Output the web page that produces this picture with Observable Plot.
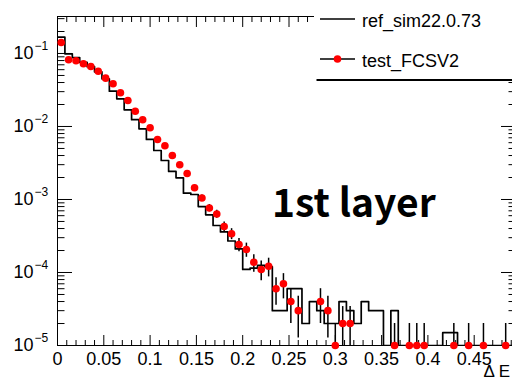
<!DOCTYPE html>
<html><head><meta charset="utf-8">
<script src="https://cdn.jsdelivr.net/npm/d3@7"></script>
<script src="https://cdn.jsdelivr.net/npm/@observablehq/plot@0.6"></script>
<style>
html,body{margin:0;padding:0;overflow:hidden;background:#fff;width:512px;height:382px}
#chart{position:relative;width:512px;height:382px;overflow:hidden}
#chart svg{max-width:none !important;width:530px;height:382px}
</style>
</head><body><div id="chart"></div>
<script>
// ---- data ----
const binWidth = 0.008;
// reference histogram (black steps), one value per bin starting at 0
const refValues = [
  0.167, 0.099, 0.088, 0.0756, 0.066, 0.056, 0.045, 0.0305, 0.0239, 0.0169,
  0.0124, 0.0093, 0.00664, 0.00469, 0.00342, 0.00242, 0.00198, 0.00122, 0.00117, 0.00080,
  0.000617, 0.00044, 0.00036, 0.00027, 0.00021, 0.00011, 0.000115, 0.000125, 0.00012, 3e-5,
  3e-5, 6e-5, 6e-5, 2e-5, 4e-5, 3e-5, 2e-5, 2e-5, 4e-5, 3e-5,
  2e-5, 4e-5, 3e-5, 3e-5, 0, 3e-5, 0, 0, 0, 0,
  0, 0, 1.5e-5, 1.5e-5, 0, 0, 0, 0, 0, 0,
  0, 0
];
// test sample (red points), null = empty bin
const testValues = [
  0.1415, 0.0820, 0.0794, 0.0723, 0.0664, 0.0572, 0.0459, 0.0385, 0.0290, 0.0227,
  0.0162, 0.01236, 0.00960, 0.00664, 0.00545, 0.00401, 0.00299, 0.00227, 0.00145, 0.00105,
  0.000766, 0.000633, 0.000427, 0.000340, 0.000242, 0.000207, 0.000138, 0.000110, 0.000122, 6e-5,
  7e-5, 4e-5, 3e-5, null, null, 4e-5, 3e-5, 1e-5, 2e-5, 2e-5,
  null, null, null, null, null, 1e-5, null, 1e-5, 1e-5, 1e-5,
  null, null, null, 1e-5, null, 1e-5, null, 1e-5, null, null,
  1e-5
];
const testUnit = 1e-5; // weight of one entry of the test sample
const xMajorTicks = [0, 0.05, 0.1, 0.15, 0.2, 0.25, 0.3, 0.35, 0.4, 0.45];
const xTickLabels = ["0", "0.05", "0.1", "0.15", "0.2", "0.25", "0.3", "0.35", "0.4", "0.45"];
const yDecades = [1e-5, 1e-4, 1e-3, 1e-2, 1e-1];
const yExponents = ["−5", "−4", "−3", "−2", "−1"];
const seriesNames = ["ref_sim22.0.73", "test_FCSV2"];
const annotation = "1st layer";
const xTitle = "Δ E";

// ---- scales ----
const xDomain = [0, 0.4946];
const yMin = 1e-5, yMax = 0.321;

const refSteps = refValues.map((v, k) => ({x: k * binWidth, y: Math.max(v, yMin)}));
refSteps.push({x: refValues.length * binWidth, y: Math.max(refValues[refValues.length - 1], yMin)});

const testPts = testValues.map((v, k) => ({x: (k + 0.5) * binWidth, v}))
  .filter(d => d.v != null)
  .map(d => {
    const err = Math.sqrt(d.v * testUnit);
    return {x: d.x, y: d.v, lo: Math.max(d.v - err, yMin), hi: d.v + err};
  });

const xMinor = d3.range(0, 50).map(i => i / 100).filter(v => v <= xDomain[1] && !xMajorTicks.some(t => Math.abs(t - v) < 1e-9));
const yMinor = yDecades.flatMap(d => [2,3,4,5,6,7,8,9].map(m => m * d)).filter(v => v <= yMax);

const font = "'Liberation Sans', Arial, Helvetica, sans-serif";

const chart = Plot.plot({
  width: 530, height: 382,
  marginLeft: 57, marginRight: 15, marginTop: 16, marginBottom: 37,
  style: {fontFamily: font, background: "white", color: "black", overflow: "visible", maxWidth: "none"},
  x: {domain: xDomain, axis: null},
  y: {type: "log", domain: [yMin, yMax], axis: null},
  marks: [
    // ticks, all pointing inward
    Plot.axisY({ticks: yDecades, anchor: "left", tickSize: -15, fill: "none", label: null}),
    Plot.axisY({ticks: yMinor, anchor: "left", tickSize: -7.5, fill: "none", label: null}),
    Plot.axisY({ticks: yDecades, anchor: "right", tickSize: -15, fill: "none", label: null}),
    Plot.axisY({ticks: yMinor, anchor: "right", tickSize: -7.5, fill: "none", label: null}),
    Plot.axisX({ticks: xMajorTicks, anchor: "bottom", tickSize: -10, fill: "none", label: null}),
    Plot.axisX({ticks: xMinor, anchor: "bottom", tickSize: -5, fill: "none", label: null}),
    Plot.axisX({ticks: xMajorTicks, anchor: "top", tickSize: -10, fill: "none", label: null}),
    Plot.axisX({ticks: xMinor, anchor: "top", tickSize: -5, fill: "none", label: null}),
    // tick labels
    Plot.axisX({ticks: xMajorTicks, anchor: "bottom", tickSize: 0, tickPadding: 7, fontSize: 18,
      tickFormat: d => xTickLabels[xMajorTicks.indexOf(d)], label: null}),
    Plot.axisY({ticks: yDecades, anchor: "left", tickSize: 0, tickPadding: 0, dx: -24, fontSize: 18,
      textAnchor: "end", tickFormat: () => "10", label: null}),
    Plot.axisY({ticks: yDecades, anchor: "left", tickSize: 0, tickPadding: 0, dx: -23, dy: -7, fontSize: 12,
      textAnchor: "start", tickFormat: d => yExponents[yDecades.indexOf(d)], label: null}),
    Plot.frame({stroke: "black", strokeWidth: 1}),
    // reference histogram
    Plot.line(refSteps, {x: "x", y: "y", curve: "step-after", stroke: "black", strokeWidth: 1.7, clip: true}),
    // test points with errors
    Plot.ruleX(testPts, {x: "x", y1: "lo", y2: "hi", stroke: "black", strokeWidth: 1.5}),
    Plot.dot(testPts, {x: "x", y: "y", r: 3.8, fill: "#ff0000", stroke: "none"})
  ]
});

document.getElementById("chart").appendChild(chart);

// ---- legend and annotations ----
const svg = d3.select(chart);
const lg = svg.append("g").attr("text-anchor", "start");
lg.append("rect").attr("x", 314).attr("y", 0).attr("width", 230).attr("height", 80).attr("fill", "white");
lg.append("line").attr("x1", 316.5).attr("x2", 530).attr("y1", 80).attr("y2", 80).attr("stroke", "black").attr("stroke-width", 2);
const entryY = [19, 59];
seriesNames.forEach((name, i) => {
  lg.append("line").attr("x1", 320).attr("x2", 355).attr("y1", entryY[i]).attr("y2", entryY[i])
    .attr("stroke", "black").attr("stroke-width", 1.5);
  if (i === 1) lg.append("circle").attr("cx", 337.5).attr("cy", entryY[i]).attr("r", 3.8).attr("fill", "#ff0000");
  lg.append("text").attr("x", 362).attr("y", entryY[i] + 8).attr("font-size", 18).attr("text-anchor", "start")
    .attr("font-family", font).attr("fill", "black").text(name);
});
svg.append("text").attr("x", 272).attr("y", 217).attr("font-size", 39).attr("font-weight", "bold")
  .attr("text-anchor", "start")
  .attr("font-family", "'Noto Sans CJK SC', 'Noto Sans', sans-serif").attr("fill", "black").text(annotation);
svg.append("text").attr("x", 510).attr("y", 377).attr("font-size", 17).attr("text-anchor", "end")
  .attr("font-family", font).attr("fill", "black").text(xTitle);
</script>
</body></html>
